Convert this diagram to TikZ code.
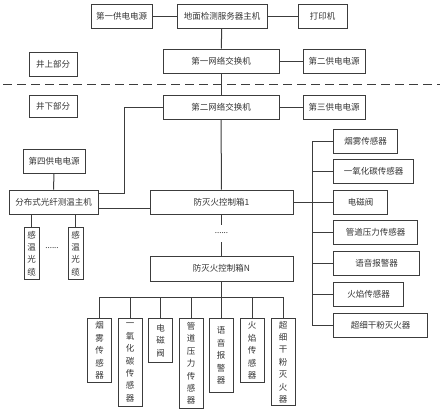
\documentclass[tikz,border=0pt]{standalone}
\usepackage{fontspec}
\usepackage{tikz}
\usetikzlibrary{positioning,calc}
\newfontfamily\cjk{Noto Sans CJK SC}
\definecolor{ink}    {HTML}{333333}
\definecolor{inkline}{HTML}{3C3C3C}
\tikzset{
  box/.style  ={draw=inkline, line width=1pt, text=ink, align=center,
                inner sep=2pt, minimum height=24pt,
                font=\cjk\fontsize{8.5}{10}\selectfont},
  sbox/.style ={box, anchor=west},
  vbox/.style ={draw=inkline, line width=1pt, text=ink, align=center,
                inner sep=1pt, minimum width=24pt, anchor=north,
                font=\cjk\fontsize{8.5}{12.4}\selectfont},
  ln/.style   ={draw=inkline, line width=1pt},
  cut/.style  ={draw=inkline, line width=1pt, dash pattern=on 9pt off 5pt},
  dots/.style ={text=ink, inner sep=0pt, font=\cjk\fontsize{8}{10}\selectfont}
}
\begin{document}
\begin{tikzpicture}[x=1pt,y=-1pt]
\useasboundingbox (0,0) rectangle (443,413);
\node[box, minimum width=61pt] (power1) at (121.5,16) {第一供电电源};
\node[box, minimum width=90pt] (server) at (222,16) {地面检测服务器主机};
\node[box, minimum width=49pt] (printer) at (322.5,16) {打印机};
\node[box, minimum width=116pt] (switch1) at (221,61) {第一网络交换机};
\node[box, minimum width=62pt] (power2) at (334,61) {第二供电电源};
\node[box, minimum width=48pt] (above) at (53,64) {井上部分};
\node[box, minimum width=48pt, minimum height=22pt] (below) at (53,106) {井下部分};
\coordinate (cutL) at (3,84);
\coordinate (cutR) at (440,84);
\node[box, minimum width=116pt] (switch2) at (221,107) {第二网络交换机};
\node[box, minimum width=62pt] (power3) at (334,107) {第三供电电源};
\node[box, minimum width=62pt] (power4) at (54,161) {第四供电电源};
\node[box, minimum width=89pt] (dts) at (53.5,202) {分布式光纤测温主机};
\node[box, minimum width=143pt] (box1) at (221.5,202) {防灭火控制箱1};
\node[dots, minimum height=17pt] (vdots) at (221.5,233.5) {......};
\node[box, minimum width=143pt, minimum height=25pt] (boxN) at (221.5,268.5)
  {防灭火控制箱N};
\node[vbox, minimum width=15pt, minimum height=52pt] (cable1) at (31.5,227)
  {感\\温\\光\\缆};
\node[vbox, minimum width=15pt, minimum height=52pt] (cable2) at (75.5,227)
  {感\\温\\光\\缆};
\node[dots] (hdots) at (52,248) {......};
\coordinate (bend) at (124,193);
\coordinate (rbus) at (312,202);
\coordinate (bbus) at (221.5,297);

\node[sbox, minimum width=64pt] (rs1) at (333,141) {烟雾传感器};
\node[sbox, minimum width=80pt] (rs2) at (333,171.5) {一氧化碳传感器};
\node[sbox, minimum width=54pt] (rs3) at (333,202) {电磁阀};
\node[sbox, minimum width=84pt] (rs4) at (333,232.5) {管道压力传感器};
\node[sbox, minimum width=86pt] (rs5) at (333,263) {语音报警器};
\node[sbox, minimum width=70pt] (rs6) at (333,294) {火焰传感器};
\node[sbox, minimum width=94pt] (rs7) at (333,325) {超细干粉灭火器};

\node[vbox, minimum height=64pt] (bs1) at (99.5,318) {烟\\雾\\传\\感\\器};
\node[vbox, minimum height=88pt] (bs2) at (130,318) {一\\氧\\化\\碳\\传\\感\\器};
\node[vbox, minimum height=44pt] (bs3) at (160.5,318) {电\\磁\\阀};
\node[vbox, minimum height=90pt] (bs4) at (191,318) {管\\道\\压\\力\\传\\感\\器};
\node[vbox, minimum height=74pt] (bs5) at (221,318) {语\\音\\报\\警\\器};
\node[vbox, minimum height=64pt] (bs6) at (252,318) {火\\焰\\传\\感\\器};
\node[vbox, minimum height=87pt] (bs7) at (283,318) {超\\细\\干\\粉\\灭\\火\\器};

\draw[cut] (cutL) -- (cutR);
\draw[ln] (power1) -- (server);
\draw[ln] (server) -- (printer);
\draw[ln] (server) -- (switch1);
\draw[ln] (switch1) -- (power2);
\draw[ln] (switch1) -- (switch2);
\draw[ln] (switch2) -- (power3);
\draw[ln] (switch2) -- (box1);
\draw[ln] (switch2.west) -| (bend) -- (bend -| dts.east);
\draw[ln] (power4) -- (dts);
\draw[ln] ([yshift=-6pt]dts.east) -- ([yshift=-6pt]dts.east -| box1.west);
\draw[ln] (cable1.north |- dts.south) -- (cable1);
\draw[ln] (cable2.north |- dts.south) -- (cable2);
\draw[ln] (box1) -- (vdots);
\draw[ln] (vdots) -- (boxN);

\draw[ln] (box1) -- (rbus);
\draw[ln] (rbus |- rs1.west) -- (rbus |- rs7.west);
\draw[ln] (rbus |- rs1.west) -- (rs1);
\draw[ln] (rbus |- rs2.west) -- (rs2);
\draw[ln] (rbus |- rs3.west) -- (rs3);
\draw[ln] (rbus |- rs4.west) -- (rs4);
\draw[ln] (rbus |- rs5.west) -- (rs5);
\draw[ln] (rbus |- rs6.west) -- (rs6);
\draw[ln] (rbus |- rs7.west) -- (rs7);

\draw[ln] (boxN) -- (bbus);
\draw[ln] (bbus -| bs1.north) -- (bbus -| bs7.north);
\draw[ln] (bbus -| bs1.north) -- (bs1);
\draw[ln] (bbus -| bs2.north) -- (bs2);
\draw[ln] (bbus -| bs3.north) -- (bs3);
\draw[ln] (bbus -| bs4.north) -- (bs4);
\draw[ln] (bbus -| bs5.north) -- (bs5);
\draw[ln] (bbus -| bs6.north) -- (bs6);
\draw[ln] (bbus -| bs7.north) -- (bs7);
\end{tikzpicture}
\end{document}
